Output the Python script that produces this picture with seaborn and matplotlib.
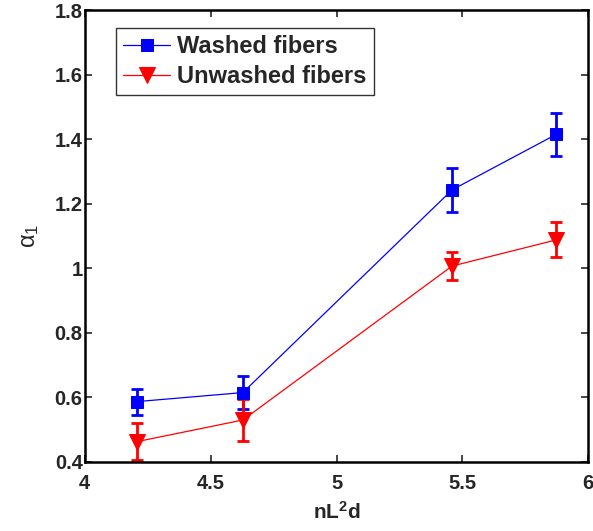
import numpy as np
import pandas as pd
import matplotlib
matplotlib.use("Agg")
import matplotlib.pyplot as plt
import seaborn as sns

x_vals = [4.207, 4.628, 5.459, 5.873]
washed = [0.587, 0.615, 1.243, 1.415]
washed_err = [0.040, 0.050, 0.068, 0.067]
unwashed = [0.463, 0.530, 1.007, 1.088]
unwashed_err = [0.058, 0.065, 0.043, 0.054]
labels = ["Washed fibers", "Unwashed fibers"]

sns.set_style("white")
plt.rcParams['font.family'] = ['Liberation Sans', 'DejaVu Sans']
plt.rcParams['mathtext.fontset'] = 'custom'
plt.rcParams['mathtext.rm'] = 'Liberation Sans'
plt.rcParams['mathtext.it'] = 'Liberation Sans:italic'
plt.rcParams['mathtext.bf'] = 'Liberation Sans:bold'

df = pd.DataFrame({
    "x": x_vals * 2,
    "y": washed + unwashed,
    "err": washed_err + unwashed_err,
    "series": [labels[0]] * 4 + [labels[1]] * 4,
})

fig = plt.figure(figsize=(5.93, 5.31), dpi=100)
ax = fig.add_axes([0.143, 0.130, 0.849, 0.851])

palette = {labels[0]: "#0000ff", labels[1]: "#ff0000"}
markers = {labels[0]: "s", labels[1]: "v"}
sizes = {labels[0]: 9, labels[1]: 12}
for name in labels:
    sub = df[df.series == name]
    ax.errorbar(sub.x, sub.y, yerr=sub.err, fmt="none", ecolor=palette[name],
                elinewidth=2, capsize=4, capthick=2, zorder=2)
    sns.lineplot(data=sub, x="x", y="y", ax=ax, color=palette[name], lw=0.9,
                 marker=markers[name], markersize=sizes[name], markeredgecolor=palette[name],
                 label=name, zorder=3, errorbar=None)

ax.set_xlim(4, 6)
ax.set_ylim(0.4, 1.8)
ax.set_xticks([4, 4.5, 5, 5.5, 6])
ax.set_xticklabels(["4", "4.5", "5", "5.5", "6"])
ax.set_yticks([0.4, 0.6, 0.8, 1.0, 1.2, 1.4, 1.6, 1.8])
ax.set_yticklabels(["0.4", "0.6", "0.8", "1", "1.2", "1.4", "1.6", "1.8"])
for lab in ax.get_xticklabels() + ax.get_yticklabels():
    lab.set_fontweight("bold")
    lab.set_fontsize(14.5)
ax.tick_params(direction="in", length=5, width=1.2, top=True, right=True,
               bottom=True, left=True)
ax.tick_params(axis="y", pad=1.5)
ax.tick_params(axis="x", pad=9)
for s in ax.spines.values():
    s.set_linewidth(1.8)
    s.set_color("black")
ax.set_xlabel(r"nL$^\mathbf{2}$d", fontsize=15, fontweight="bold", labelpad=5)
ax.set_ylabel("α$_1$", fontsize=17, labelpad=10)

leg = ax.legend(loc="upper left", bbox_to_anchor=(0.062, 0.96), frameon=True,
                fancybox=False, edgecolor="black", prop={"weight": "bold", "size": 17},
                handlelength=2.0, borderpad=0.3, labelspacing=0.3, handletextpad=0.3,
                borderaxespad=0)
leg.get_frame().set_linewidth(1.0)

fig.savefig("out.png", dpi=100)
